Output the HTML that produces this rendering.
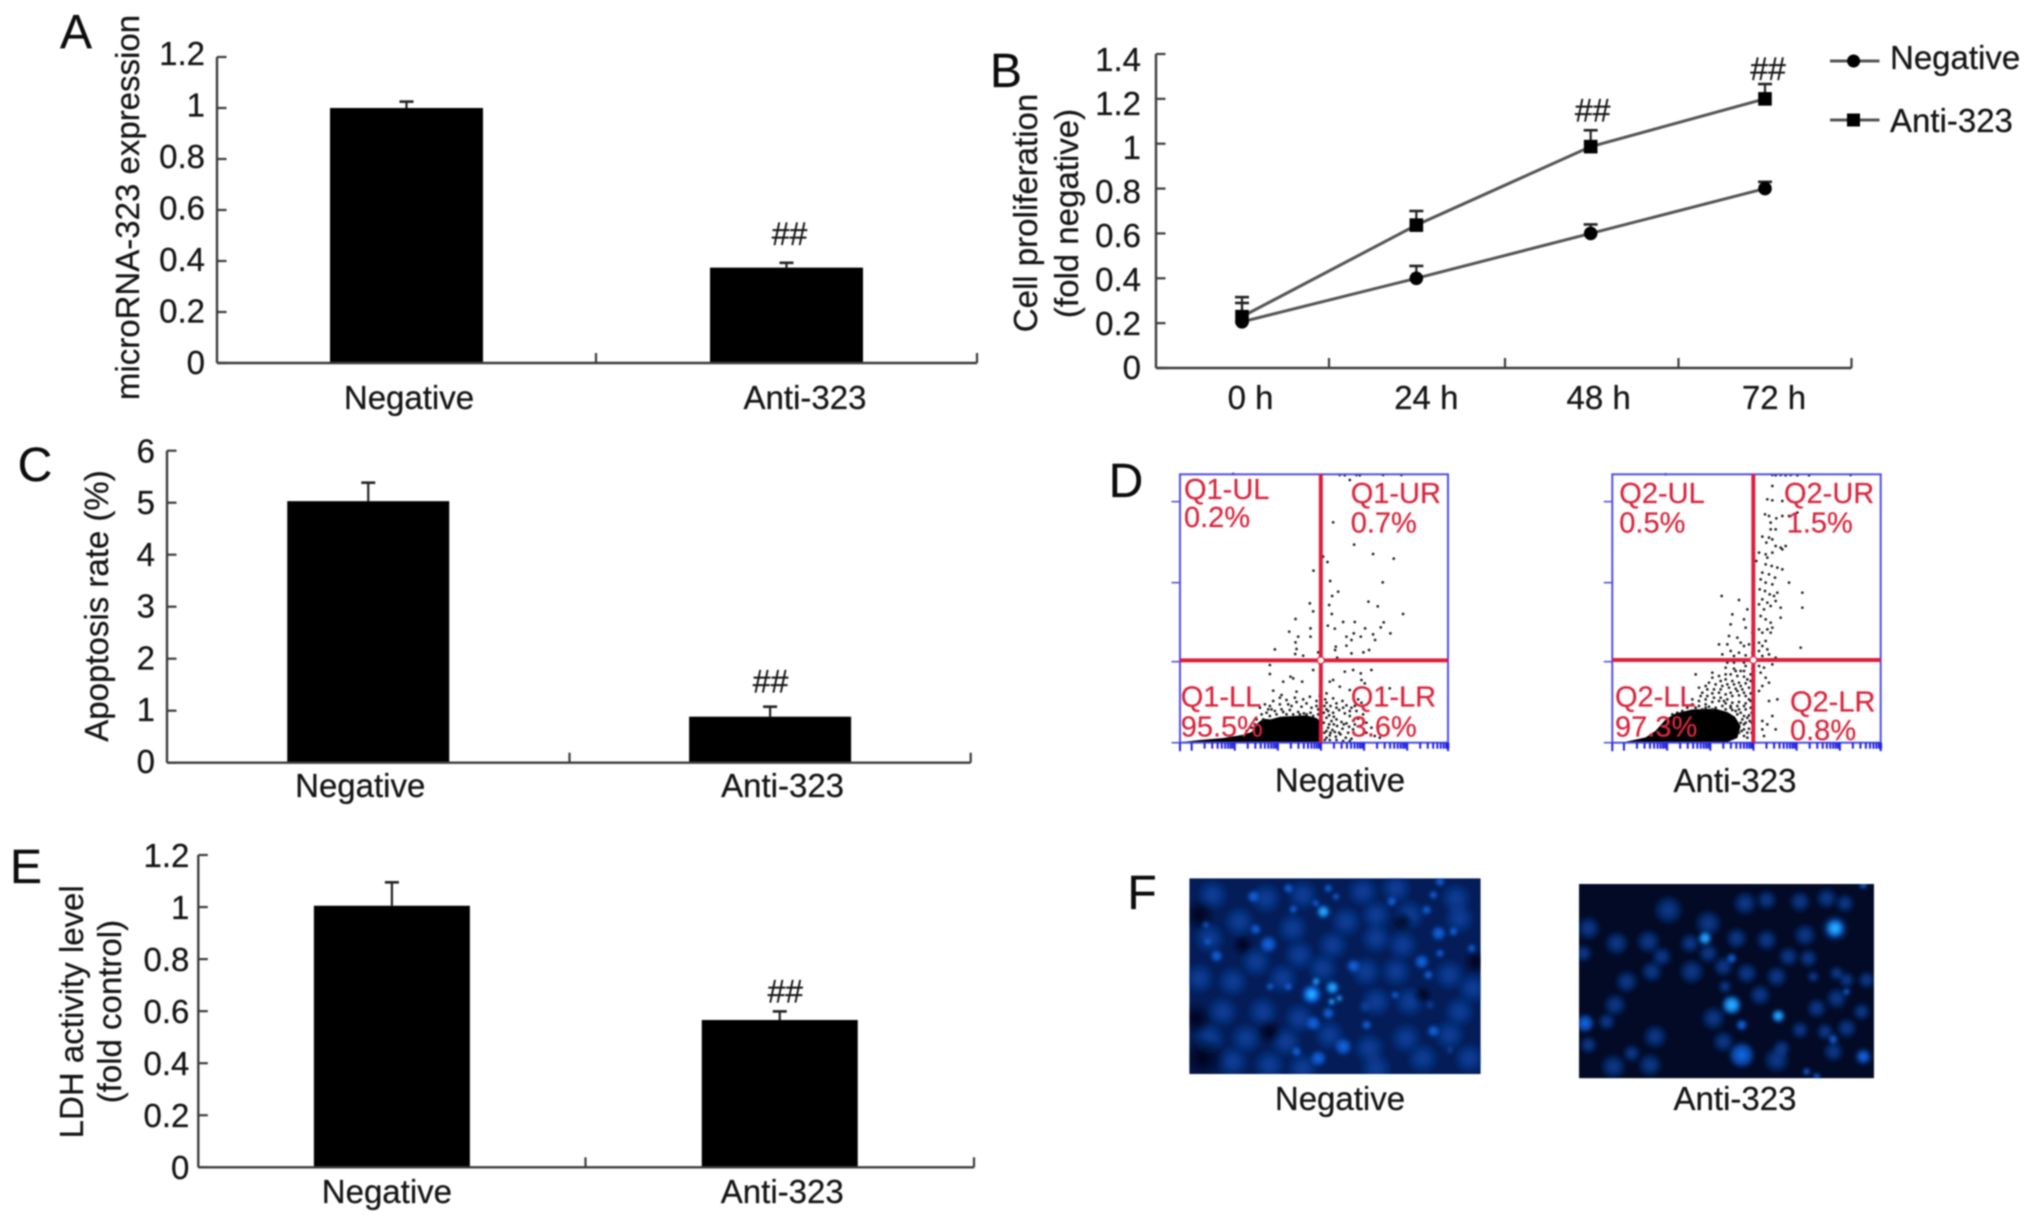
<!DOCTYPE html>
<html lang="en">
<head>
<meta charset="utf-8">
<title>MicroRNA-323 panels</title>
<style>
html,body{margin:0;padding:0;background:#fff;width:2032px;height:1224px;overflow:hidden}
svg{display:block}
text{font-family:"Liberation Sans",sans-serif;fill:#151515;stroke:#151515;stroke-width:.25px}
.flow-label{fill:#d8283f;stroke:#d8283f;font-size:29px}
.panel-letter{font-size:48px;fill:#0c0c0c}
</style>
</head>
<body>
<svg id="figure" width="2032" height="1224" viewBox="0 0 2032 1224" style="filter:blur(.7px)">
  <defs>
    <radialGradient id="glow-dim"><stop offset="0" stop-color="#0d4ab0" stop-opacity=".8"/><stop offset=".65" stop-color="#0b3f9a" stop-opacity=".5"/><stop offset="1" stop-color="#0b3f9a" stop-opacity="0"/></radialGradient>
    <radialGradient id="glow-mid"><stop offset="0" stop-color="#1173f5" stop-opacity="1"/><stop offset=".6" stop-color="#0f5cd8" stop-opacity=".7"/><stop offset="1" stop-color="#0f5cd8" stop-opacity="0"/></radialGradient>
    <radialGradient id="glow-bright"><stop offset="0" stop-color="#35c6ff" stop-opacity="1"/><stop offset=".55" stop-color="#1490ff" stop-opacity=".85"/><stop offset="1" stop-color="#1173f5" stop-opacity="0"/></radialGradient>
    <radialGradient id="glow-dark"><stop offset="0" stop-color="#000618" stop-opacity=".95"/><stop offset="1" stop-color="#000618" stop-opacity="0"/></radialGradient>
    <filter id="soften" x="-5%" y="-5%" width="110%" height="110%"><feGaussianBlur stdDeviation="5"/></filter>
  </defs>

  <text class="panel-letter" x="76" y="48" text-anchor="middle">A</text>
  <text class="panel-letter" x="1006" y="87" text-anchor="middle">B</text>
  <text class="panel-letter" x="35" y="481" text-anchor="middle">C</text>
  <text class="panel-letter" x="1126" y="497" text-anchor="middle">D</text>
  <text class="panel-letter" x="26" y="883" text-anchor="middle">E</text>
  <text class="panel-letter" x="1142" y="909" text-anchor="middle">F</text>

  <g id="panel-a">
    <text transform="translate(139,207.500) rotate(-90)" text-anchor="middle" font-size="33">microRNA-323 expression</text>
  </g>
  <g id="panel-b">
    <text transform="translate(1037,213) rotate(-90)" text-anchor="middle" font-size="33">Cell proliferation</text>
    <text transform="translate(1078,213.500) rotate(-90)" text-anchor="middle" font-size="33">(fold negative)</text>
  </g>
  <g id="panel-c">
    <text transform="translate(108,606) rotate(-90)" text-anchor="middle" font-size="33">Apoptosis rate (%)</text>
  </g>
  <g id="panel-e">
    <text transform="translate(83,1011.800) rotate(-90)" text-anchor="middle" font-size="33">LDH activity level</text>
    <text transform="translate(121,1011.600) rotate(-90)" text-anchor="middle" font-size="33">(fold control)</text>
  </g>

  <g id="flow-negative"></g>
  <g id="flow-anti"></g>
  <g>
    <text class="flow-label" x="1184" y="499">Q1-UL</text>
    <text class="flow-label" x="1184" y="527">0.2%</text>
    <text class="flow-label" x="1350.700" y="503">Q1-UR</text>
    <text class="flow-label" x="1350.700" y="532.700">0.7%</text>
    <text class="flow-label" x="1180.700" y="706.700">Q1-LL</text>
    <text class="flow-label" x="1180.700" y="736.700">95.5%</text>
    <text class="flow-label" x="1350.700" y="706.700">Q1-LR</text>
    <text class="flow-label" x="1350.700" y="736.700">3.6%</text>
  </g>
  <g>
    <text class="flow-label" x="1619.300" y="503">Q2-UL</text>
    <text class="flow-label" x="1619.300" y="532.700">0.5%</text>
    <text class="flow-label" x="1784" y="503">Q2-UR</text>
    <text class="flow-label" x="1786.700" y="532.700">1.5%</text>
    <text class="flow-label" x="1615" y="706.700">Q2-LL</text>
    <text class="flow-label" x="1615" y="736.700">97.3%</text>
    <text class="flow-label" x="1790" y="711.700">Q2-LR</text>
    <text class="flow-label" x="1790" y="740">0.8%</text>
  </g>
  <text x="1340" y="791.500" text-anchor="middle" font-size="33">Negative</text>
  <text x="1735" y="792" text-anchor="middle" font-size="33">Anti-323</text>

  <svg x="1189.300" y="878.300" width="291.400" height="195.700" viewBox="0 0 874 587">
    <rect width="874" height="587" fill="#041d58"/>
    <g id="micro-negative" filter="url(#soften)"></g>
  </svg>
  <svg x="1579" y="884" width="295" height="194.300" viewBox="0 0 885 583">
    <rect width="885" height="583" fill="#020a26"/>
    <g id="micro-anti" filter="url(#soften)"></g>
  </svg>
  <text x="1340" y="1110" text-anchor="middle" font-size="33">Negative</text>
  <text x="1735" y="1110" text-anchor="middle" font-size="33">Anti-323</text>
</svg>

<script>
/* ---------- Panel A data ---------- */
const categories = ['Negative', 'Anti-323'];
const ticksA = [0, 0.2, 0.4, 0.6, 0.8, 1, 1.2];
const valuesA = [1.0, 0.374];
const errorsA = [0.025, 0.019];
const markersA = ['', '##'];

/* ---------- Panel B data ---------- */
const timeLabels = ['0 h', '24 h', '48 h', '72 h'];
const ticksB = [0, 0.2, 0.4, 0.6, 0.8, 1, 1.2, 1.4];
const negativeB = [0.206, 0.4, 0.6, 0.8];
const negativeErrB = [0.084, 0.055, 0.04, 0.03];
const antiB = [0.229, 0.637, 0.987, 1.2];
const antiErrB = [0.087, 0.063, 0.073, 0.066];
const markersB = ['', '', '##', '##'];

/* ---------- Panel C data ---------- */
const ticksC = [0, 1, 2, 3, 4, 5, 6];
const valuesC = [5.03, 0.885];
const errorsC = [0.355, 0.192];
const markersC = ['', '##'];

/* ---------- Panel E data ---------- */
const ticksE = [0, 0.2, 0.4, 0.6, 0.8, 1, 1.2];
const valuesE = [1.005, 0.566];
const errorsE = [0.09, 0.033];
const markersE = ['', '##'];

/* ---------- Panel D data: events in fluorescence channel units (0-805 on each axis) ---------- */
const gateNegative = [423, 247];
const gateAnti = [423, 248];
const densityNegative = [[5,2],[60,8],[130,14],[190,24],[215,32],[232,58],[250,72],[272,70],[300,78],[340,80],[380,82],[410,74],[425,62],[425,0],[0,0]];
const densityAnti = [[40,3],[100,16],[130,36],[160,70],[190,88],[240,100],[310,102],[345,92],[368,78],[385,50],[375,14],[340,0],[50,0]];
const eventsNegative = [[460,661],[523,594],[580,566],[642,552],[430,558],[443,542],[401,516],[451,485],[609,481],[475,453],[457,440],[448,413],[390,418],[400,394],[566,423],[594,409],[456,386],[670,386],[347,371],[490,362],[525,362],[612,361],[444,351],[465,342],[392,343],[328,333],[556,343],[603,346],[522,328],[632,328],[580,325],[355,318],[392,318],[500,318],[543,318],[515,308],[586,308],[347,301],[468,288],[500,291],[285,280],[350,281],[466,278],[568,278],[551,271],[515,268],[346,266],[370,261],[415,271],[472,255],[400,218],[270,233],[270,206],[495,213],[520,218],[575,218],[543,208],[460,188],[332,198],[367,183],[340,193],[450,183],[545,188],[480,168],[310,183],[280,156],[305,143],[350,153],[390,138],[440,148],[460,133],[510,158],[555,178],[630,163],[480,803],[495,802],[530,803],[540,802],[610,803],[665,803],[510,788],[160,806],[440,120],[452,110],[470,118],[488,125],[500,112],[515,105],[445,95],[460,90],[478,98],[495,88],[510,80],[530,95],[545,120],[440,75],[455,65],[470,70],[485,62],[500,58],[520,66],[535,72],[550,85],[445,45],[458,38],[472,50],[488,42],[505,30],[520,40],[540,50],[450,22],[468,18],[482,25],[498,15],[515,12],[560,30],[585,20],[280,125],[300,115],[320,128],[335,110],[350,122],[365,108],[380,118],[395,105],[410,125],[420,140],[265,100],[285,95],[310,92],[330,98],[355,92],[372,88],[392,90],[415,100],[250,70],[270,80],[230,70],[245,85],[260,90],[275,100],[290,85],[305,100],[320,85],[340,85],[360,85],[380,85],[400,80],[415,85],[225,55],[215,45],[200,35],[240,105],[255,115],[270,110],[300,135],[325,115],[345,135],[370,130],[410,110],[432,90],[432,60],[434,30],[434,110],[436,130],[440,100],[448,82],[462,78],[448,55],[462,55],[440,35],[452,30],[465,32],[478,30],[492,55],[508,48],[525,55],[470,105],[490,105],[510,95],[525,110],[535,130],[560,60],[575,45],[600,15],[440,15],[435,8],[450,8],[470,8],[490,5],[510,5]];
const eventsAnti = [[480,803],[490,802],[505,803],[520,802],[535,803],[555,802],[590,802],[715,803],[160,805],[480,770],[465,730],[480,727],[510,725],[458,685],[470,680],[475,660],[492,673],[510,680],[530,680],[555,690],[475,640],[490,640],[470,615],[480,610],[450,618],[462,600],[490,590],[505,585],[460,565],[480,570],[465,555],[440,570],[510,580],[520,590],[432,545],[460,535],[478,530],[495,525],[510,520],[450,510],[470,505],[488,495],[445,490],[460,480],[480,475],[530,480],[442,460],[458,455],[472,445],[485,440],[495,450],[450,430],[465,420],[475,410],[440,415],[455,400],[490,425],[505,405],[570,450],[328,440],[380,428],[360,385],[445,380],[460,370],[475,360],[570,405],[405,400],[395,370],[440,340],[450,330],[465,340],[480,345],[505,375],[355,355],[400,345],[420,330],[375,315],[345,295],[385,300],[395,290],[355,275],[410,295],[440,300],[450,290],[460,305],[465,280],[475,330],[565,285],[320,295],[350,320],[330,265],[365,260],[380,270],[400,262],[420,270],[440,275],[450,260],[470,265],[490,255],[410,250],[430,245],[395,240],[365,240],[345,240],[440,230],[455,225],[480,235],[445,210],[460,195],[470,180],[450,170],[440,155],[470,125],[495,130],[480,80],[465,55],[450,40],[490,40],[540,35],[455,20],[450,65],[340,225],[365,222],[385,215],[400,230],[420,222],[355,205],[375,200],[395,198],[415,205],[300,195],[320,200],[340,190],[360,185],[380,180],[400,178],[250,205],[290,180],[310,175],[330,170],[350,165],[370,162],[390,160],[410,165],[270,150],[285,160],[300,148],[320,150],[340,145],[360,140],[380,142],[400,140],[415,148],[240,130],[260,125],[280,130],[300,122],[320,125],[340,118],[360,120],[380,122],[400,118],[415,125],[250,105],[270,100],[290,108],[340,100],[360,98],[380,100],[400,100],[415,105],[395,80],[410,82],[375,85],[385,60],[400,60],[412,65],[395,40],[410,42],[380,30],[395,20],[405,15],[385,90],[370,95],[355,105],[330,110],[310,105],[280,115],[260,110],[240,115],[225,105],[210,95],[195,90],[180,85],[165,60],[150,50],[390,70],[395,55],[388,35],[405,30],[345,130],[325,135],[305,135],[285,140],[265,140],[355,150],[375,155],[395,150],[325,160],[305,160],[345,175],[365,175],[385,170],[405,190],[325,185],[280,170],[260,165],[300,210],[340,205],[370,215],[395,215],[415,185],[410,130],[418,90],[418,60],[418,30],[405,75],[395,110],[375,110],[355,110],[335,125],[300,100],[280,105]];

/* ---------- Panel F photo spots: x, y, radius, tone ---------- */
const spotsNegative = [[70,50,48,'dim'],[230,60,48,'dim'],[340,50,48,'dim'],[520,40,48,'dim'],[620,30,48,'dim'],[800,60,48,'dim'],[150,130,48,'dim'],[310,150,48,'dim'],[470,130,48,'dim'],[560,110,48,'dim'],[660,110,48,'dim'],[60,180,48,'dim'],[200,250,48,'dim'],[330,230,48,'dim'],[430,200,48,'dim'],[560,180,48,'dim'],[640,200,48,'dim'],[810,120,48,'dim'],[30,300,48,'dim'],[130,310,48,'dim'],[280,300,48,'dim'],[400,270,48,'dim'],[530,280,48,'dim'],[620,280,48,'dim'],[780,290,48,'dim'],[850,330,48,'dim'],[100,400,48,'dim'],[220,400,48,'dim'],[330,420,48,'dim'],[560,370,48,'dim'],[660,370,48,'dim'],[810,400,48,'dim'],[60,480,48,'dim'],[170,480,48,'dim'],[290,490,48,'dim'],[420,470,48,'dim'],[540,510,48,'dim'],[650,480,48,'dim'],[780,470,48,'dim'],[840,540,48,'dim'],[130,550,48,'dim'],[240,560,48,'dim'],[340,570,48,'dim'],[560,570,48,'dim'],[700,540,48,'dim'],[40,540,70,'dark'],[30,110,50,'dark'],[20,420,50,'dark'],[160,200,36,'dark'],[640,130,34,'dark'],[860,250,40,'dark'],[240,460,40,'dark'],[700,350,30,'dark'],[527,385,20,'dim'],[722,380,16,'dim'],[782,515,14,'dim'],[82,233,20,'mid'],[367,348,34,'mid'],[367,348,24,'bright'],[429,328,22,'bright'],[427,370,12,'bright'],[450,360,11,'bright'],[380,310,13,'bright'],[492,263,22,'mid'],[748,165,24,'mid'],[237,198,28,'mid'],[402,100,22,'bright'],[380,75,12,'mid'],[440,55,12,'mid'],[192,55,20,'mid'],[297,30,16,'mid'],[417,30,14,'mid'],[312,93,14,'mid'],[199,153,18,'mid'],[732,458,20,'mid'],[462,505,28,'mid'],[387,540,26,'mid'],[322,520,16,'mid'],[417,405,20,'mid'],[532,440,16,'mid'],[372,435,24,'mid'],[717,290,16,'mid'],[697,250,24,'mid'],[617,350,13,'mid'],[712,95,16,'mid'],[732,50,14,'mid'],[752,10,16,'mid'],[607,70,16,'mid'],[792,160,15,'mid'],[847,210,14,'mid'],[752,225,14,'mid'],[242,325,13,'mid'],[297,325,13,'mid'],[50,140,10,'mid'],[55,190,11,'mid']];
const spotsAnti = [[268,78,46,'dim'],[388,118,42,'dim'],[113,178,38,'dim'],[208,173,38,'dim'],[248,218,32,'dim'],[338,263,40,'dim'],[218,263,34,'dim'],[143,293,36,'dim'],[108,363,36,'dim'],[18,418,30,'mid'],[83,413,28,'dim'],[28,483,28,'dim'],[103,548,40,'dim'],[213,543,38,'dim'],[228,458,38,'dim'],[158,508,28,'dim'],[403,403,38,'dim'],[433,473,34,'dim'],[488,513,42,'mid'],[593,528,41,'dim'],[608,493,28,'dim'],[488,423,20,'dim'],[543,333,34,'dim'],[593,278,34,'dim'],[688,223,30,'dim'],[628,218,32,'dim'],[563,168,34,'dim'],[473,163,34,'dim'],[498,58,38,'dim'],[563,48,32,'dim'],[663,53,34,'dim'],[678,153,36,'dim'],[798,58,30,'dim'],[743,43,34,'dim'],[713,373,32,'dim'],[773,343,34,'dim'],[848,383,28,'dim'],[803,433,32,'dim'],[738,443,28,'dim'],[763,503,32,'dim'],[853,518,30,'dim'],[863,288,28,'dim'],[803,288,26,'dim'],[773,268,24,'dim'],[703,278,20,'dim'],[388,208,32,'dim'],[333,178,32,'dim'],[503,268,34,'dim'],[433,248,32,'dim'],[13,208,28,'dim'],[28,133,38,'dim'],[663,438,28,'dim'],[438,308,22,'dim'],[768,133,44,'dim'],[378,163,22,'bright'],[768,133,30,'bright'],[458,363,32,'bright'],[598,396,22,'bright'],[488,423,16,'mid'],[458,223,17,'mid'],[763,466,16,'mid'],[803,323,12,'mid'],[853,3,14,'mid'],[713,578,13,'mid'],[683,563,13,'mid'],[853,518,20,'mid']];

/* ---------- drawing helpers ---------- */
const SVG_NS = 'http://www.w3.org/2000/svg';
function make(tag, parent, attrs) {
  const el = document.createElementNS(SVG_NS, tag);
  for (const k in attrs) el.setAttribute(k, attrs[k]);
  parent.appendChild(el);
  return el;
}
const INK = '#3c3c3c';
const FS = 33;

function drawErrorBar(g, x, yTop, yBase) {
  const stem = make('line', g, {x1: x, x2: x, y1: yBase, y2: yTop, stroke: '#222', 'stroke-width': 2.2});
  
  
  const cap = make('line', g, {x1: x - 7, x2: x + 7, y1: yTop, y2: yTop, stroke: '#222', 'stroke-width': 2.6});
  
  
}

function drawYAxis(g, o, yScale) {
  const axis = make('line', g, {x1: o.left, x2: o.left, y1: o.top, y2: o.bottom, stroke: INK, 'stroke-width': 2.4});
  
  
  const max = o.ticks[o.ticks.length - 1];
  o.ticks.forEach(v => {
    const tick = make('line', g, {x1: o.left, x2: o.left + 9.500, y1: yScale(v), y2: yScale(v), stroke: INK, 'stroke-width': 2.2});
    
    
    const center = o.labelAtZero + (o.labelAtMax - o.labelAtZero) * v / max;
    const label = make('text', g, {x: o.labelRight, y: center + 11.800, 'text-anchor': 'end', 'font-size': FS});
    
    
    label.textContent = String(v);
  });
}

function drawXAxis(g, o) {
  const axis = make('line', g, {x1: o.left, x2: o.right, y1: o.bottom, y2: o.bottom, stroke: INK, 'stroke-width': 2.4});
  
  
  o.xTicks.forEach(x => {
    const tick = make('line', g, {x1: x, x2: x, y1: o.bottom, y2: o.bottom - 10, stroke: INK, 'stroke-width': 2.2});
    
    
  });
}

function barChart(id, o) {
  const g = document.getElementById(id);
  const max = o.ticks[o.ticks.length - 1];
  const yScale = v => o.bottom - (o.bottom - o.top) * v / max;
  const bands = [o.left, o.mid, o.right];
  const xCenter = i => (bands[i] + bands[i + 1]) / 2;
  o.values.forEach((v, i) => {
    drawErrorBar(g, xCenter(i), yScale(v + o.errors[i]), yScale(v));
    const bar = make('rect', g, {x: xCenter(i) - o.barWidth / 2, y: yScale(v), width: o.barWidth, height: o.bottom - yScale(v), fill: '#000'});
    
    
    const label = make('text', g, {x: xCenter(i) + o.labelDx[i], y: o.labelBase, 'text-anchor': 'middle', 'font-size': FS});
    
    
    label.textContent = categories[i];
    if (o.markers[i]) {
      const mark = make('text', g, {x: xCenter(i) + o.hashDx, y: yScale(v + o.errors[i]) - o.hashGap, 'text-anchor': 'middle', 'font-size': 32});
      
      
      mark.textContent = o.markers[i];
    }
  });
  drawYAxis(g, o, yScale);
  drawXAxis(g, {left: o.left, right: o.right, bottom: o.bottom, xTicks: [o.mid, o.right]});
}

barChart('panel-a', {left: 217, mid: 596, right: 977, top: 57, bottom: 363, ticks: ticksA, values: valuesA, errors: errorsA, markers: markersA, barWidth: 153, labelRight: 205, labelAtZero: 362, labelAtMax: 53, labelDx: [2.500, 18.500], labelBase: 409, hashDx: 3, hashGap: 18});
barChart('panel-c', {left: 167, mid: 569.500, right: 970.700, top: 450.700, bottom: 762.700, ticks: ticksC, values: valuesC, errors: errorsC, markers: markersC, barWidth: 162, labelRight: 155, labelAtZero: 761, labelAtMax: 450.500, labelDx: [-8, 12.500], labelBase: 797, hashDx: 0.500, hashGap: 14});
barChart('panel-e', {left: 198.300, mid: 585.500, right: 974, top: 855, bottom: 1167.300, ticks: ticksE, values: valuesE, errors: errorsE, markers: markersE, barWidth: 156, labelRight: 189.400, labelAtZero: 1167, labelAtMax: 855, labelDx: [-5, 2.500], labelBase: 1203, hashDx: 5.500, hashGap: 9});

/* ---------- Panel B ---------- */
(function () {
  const g = document.getElementById('panel-b');
  const o = {left: 1156, right: 1851.500, top: 54, bottom: 368, ticks: ticksB, labelRight: 1141, labelAtZero: 367, labelAtMax: 59};
  const max = ticksB[ticksB.length - 1];
  const yScale = v => o.bottom - (o.bottom - o.top) * v / max;
  const xStep = (1765 - 1242) / 3;
  const xScale = i => 1242 + xStep * i;
  const labelDx = [8.500, 10, 8, 9];
  drawYAxis(g, o, yScale);
  drawXAxis(g, {left: o.left, right: o.right, bottom: o.bottom, xTicks: [1329, 1505, 1678.500, 1851.500]});

  timeLabels.forEach((t, i) => {
    const label = make('text', g, {x: xScale(i) + labelDx[i], y: 409, 'text-anchor': 'middle', 'font-size': FS});
    
    
    label.textContent = t;
  });

  function series(vals, errs, kind) {
    const pts = vals.map((v, i) => xScale(i) + ',' + yScale(v)).join(' ');
    const line = make('polyline', g, {points: pts, fill: 'none', stroke: '#555', 'stroke-width': 3});
    
    
    vals.forEach((v, i) => {
      drawErrorBar(g, xScale(i), yScale(v + errs[i]), yScale(v));
      let m;
      if (kind === 'negative') m = make('circle', g, {cx: xScale(i), cy: yScale(v), r: 6.800, fill: '#000'});
      else m = make('rect', g, {x: xScale(i) - 6.800, y: yScale(v) - 6.800, width: 13.600, height: 13.600, fill: '#000'});
      
      
    });
  }
  series(negativeB, negativeErrB, 'negative');
  series(antiB, antiErrB, 'anti-323');

  const hashGap = [0, 0, 9, 4];
  const hashDx = [0, 0, 2, 3];
  markersB.forEach((m, i) => {
    if (!m) return;
    const top = yScale(antiB[i] + antiErrB[i]);
    const t = make('text', g, {x: xScale(i) + hashDx[i], y: top - hashGap[i], 'text-anchor': 'middle', 'font-size': 32});
    
    
    t.textContent = m;
  });

  /* legend */
  const legend = make('g', g, {});
  
  
  const e1 = make('line', legend, {x1: 1830, x2: 1879.500, y1: 61, y2: 61, stroke: '#555', 'stroke-width': 3});
  
  
  const c1 = make('circle', legend, {cx: 1853.600, cy: 61, r: 6.500, fill: '#000'});
  
  
  const t1 = make('text', legend, {x: 1890, y: 69, 'font-size': FS});
  
  
  t1.textContent = 'Negative';
  const e2 = make('line', legend, {x1: 1830, x2: 1879.500, y1: 120, y2: 120, stroke: '#555', 'stroke-width': 3});
  
  
  const c2 = make('rect', legend, {x: 1847, y: 113.500, width: 13, height: 13, fill: '#000'});
  
  
  const t2 = make('text', legend, {x: 1890, y: 132, 'font-size': FS});
  
  
  t2.textContent = 'Anti-323';
})();

/* ---------- Panel D ---------- */
function flowPlot(id, left, right, top, bottom, density, events, gate) {
  const g = document.getElementById(id);
  const FULL = 805;
  const xS = c => left + c / FULL * (right - left);
  const yS = c => bottom - c / FULL * (bottom - top);

  const hull = make('polygon', g, {points: density.map(p => xS(p[0]) + ',' + yS(p[1])).join(' '), fill: '#000'});
  
  
  events.forEach(p => {
    const d = make('circle', g, {cx: xS(p[0]), cy: yS(p[1]), r: 1.350, fill: '#1c1c1c'});
    
    
  });

  const box = make('rect', g, {x: left, y: top, width: right - left, height: bottom - top, fill: 'none', stroke: '#4f4fe8', 'stroke-width': 2});
  
  
  [0, 243, 480, 723].forEach(c => {
    const t = make('line', g, {x1: left - 8.500, x2: left, y1: yS(c), y2: yS(c), stroke: '#4a4ae0', 'stroke-width': 1.500});
    
    
  });
  const f = make('line', g, {x1: left, x2: left, y1: bottom, y2: bottom + 8.500, stroke: '#1f1fe0', 'stroke-width': 2});
  
  
  [35, 164.500, 294, 423.500, 553, 682.500].forEach(start => {
    [1, 2, 3, 4, 5, 6, 7, 8, 9].forEach(k => {
      const c = start + 129.500 * Math.log10(k);
      const t = make('line', g, {x1: xS(c), x2: xS(c), y1: bottom, y2: bottom + (k === 1 ? 8 : 6), stroke: '#1f1fe0', 'stroke-width': 2});
      
      
    });
  });
  const r = make('line', g, {x1: right, x2: right, y1: bottom, y2: bottom + 8.500, stroke: '#1f1fe0', 'stroke-width': 2});
  
  

  const v = make('line', g, {x1: xS(gate[0]), x2: xS(gate[0]), y1: top, y2: bottom, stroke: '#dc1f3c', 'stroke-width': 4});
  
  
  const h = make('line', g, {x1: left, x2: right, y1: yS(gate[1]), y2: yS(gate[1]), stroke: '#dc1f3c', 'stroke-width': 4});
  
  
  const dot = make('circle', g, {cx: xS(gate[0]), cy: yS(gate[1]), r: 3.500, fill: '#fff', stroke: '#dc1f3c', 'stroke-width': 1.200});
  
  
}
flowPlot('flow-negative', 1180, 1448, 474.300, 742.700, densityNegative, eventsNegative, gateNegative);
flowPlot('flow-anti', 1612.300, 1880.700, 474.300, 742.700, densityAnti, eventsAnti, gateAnti);

/* ---------- Panel F ---------- */
function paintSpots(id, spots) {
  const s = document.getElementById(id);
  spots.forEach(p => {
    const c = make('circle', s, {cx: p[0], cy: p[1], r: p[2], fill: 'url(#glow-' + p[3] + ')'});
    
    
  });
}
paintSpots('micro-negative', spotsNegative);
paintSpots('micro-anti', spotsAnti);
</script>
</body>
</html>
